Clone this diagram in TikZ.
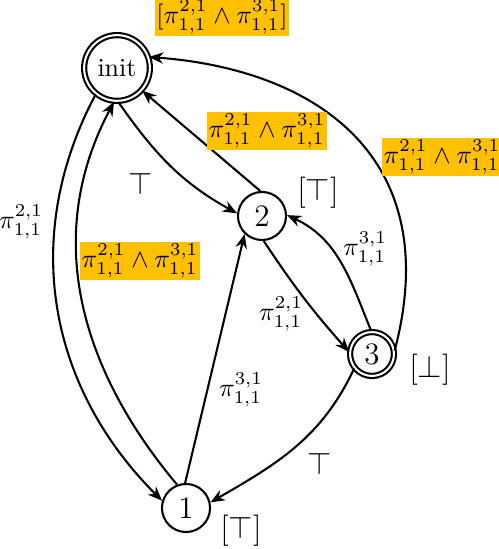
\documentclass[tikz,border=0pt]{standalone}
\usetikzlibrary{arrows.meta}
\definecolor{lblyellow}{HTML}{FFC000}
\newcommand\mypa{\pi^{2,1}_{1,1}}
\newcommand\mypb{\pi^{3,1}_{1,1}}
\begin{document}
\begin{tikzpicture}[x=0.385pt,y=0.385pt,line width=0.8pt,
  st/.style={circle,draw,inner sep=0pt,minimum size=18.5pt,font=\large},
  acc/.style={circle,draw,double,double distance=0.8pt,inner sep=0pt},
  arr/.style={-{Stealth[length=5.5pt,width=4.4pt]}},
  hl/.style={fill=lblyellow,inner sep=0.6pt},
  lbl/.style={inner sep=0pt}]
\useasboundingbox (0,0) rectangle (498,549);
% states
\node[acc,minimum size=25.3pt] (init) at (117,481) {init};
\node[st] (n2) at (262,333) {2};
\node[acc,minimum size=16.9pt,font=\large] (n3) at (372,195) {3};
\node[st] (n1) at (186,41) {1};
% state labels
\node[hl] (linit) at (222,532) {$[\mypa\wedge\mypb]$};
\node[lbl,font=\large] (l2) at (318,356) {$[\top]$};
\node[lbl,font=\large] (l3) at (430,179) {$[\bot]$};
\node[lbl,font=\large] (l1) at (241,18) {$[\top]$};
% edges
\draw[arr] (init.-88) to[out=-55,in=151] (n2.174);
\draw[arr] (n2.94) -- (init.-42);
\draw[arr] (n3.9) .. controls (445,389) and (320,479) .. (init.19);
\draw[arr] (n3.92) to[out=112,in=-25] (n2.2);
\draw[arr] (n2.-86) to[bend right=4] (n3.175);
\draw[arr] (n3.219) to[out=-115,in=30] (n1.13);
\draw[arr] (n1.92) -- (n2.-134);
\draw[arr] (init.-129) to[out=-118,in=135] (n1.163);
\draw[arr] (n1.111) to[out=130,in=-118] (init.-95);
% edge labels
\node[lbl,font=\large] (e1) at (141,365) {$\top$};
\node[hl] (e2) at (267,418) {$\mypa\wedge\mypb$};
\node[hl] (e3) at (442,392) {$\mypa\wedge\mypb$};
\node[lbl] (e4) at (365,300) {$\mypb$};
\node[lbl] (e5) at (281,235) {$\mypa$};
\node[lbl,font=\large] (e6) at (320,85) {$\top$};
\node[lbl] (e7) at (241,159) {$\mypb$};
\node[lbl] (e8) at (21,327) {$\mypa$};
\node[hl] (e9) at (140,288) {$\mypa\wedge\mypb$};
\end{tikzpicture}
\end{document}
